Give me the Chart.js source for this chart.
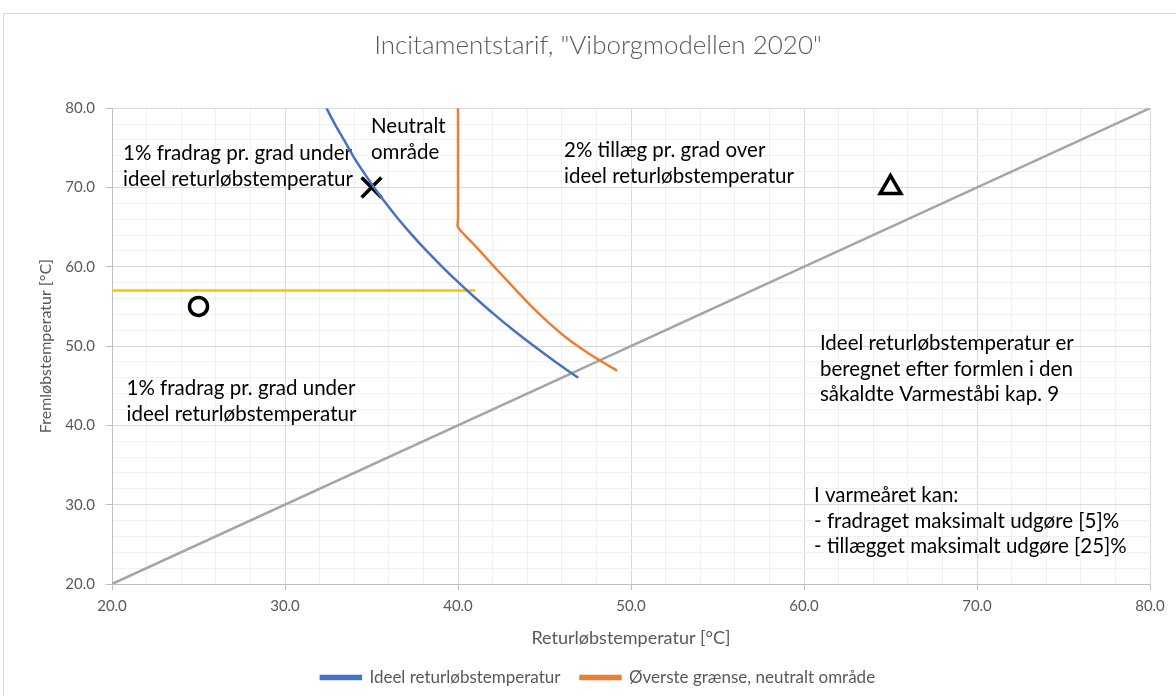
<!DOCTYPE html>
<html>
<head>
<meta charset="utf-8">
<script src="https://cdn.jsdelivr.net/npm/chart.js@4.4.1/dist/chart.umd.min.js"></script>
<style>
  html, body { margin: 0; padding: 0; background: #fff; }
  #wrap { width: 1176px; height: 696px; position: relative; }
</style>
</head>
<body>
<div id="wrap"><canvas id="chart" width="1176" height="696"></canvas></div>
<script>
// Ideel returløbstemperatur (blå kurve): fremløb -> retur
const idealFlow   = [80, 78, 76, 74, 72, 70, 68, 66, 64, 62, 60, 58, 56, 54, 52, 50, 48, 46];
const idealReturn = [32.4, 32.88, 33.41, 33.93, 34.52, 35.15, 35.83, 36.56, 37.35, 38.19, 39.09, 40.04, 41.04, 42.09, 43.21, 44.39, 45.64, 46.95];

// Øverste grænse, neutralt område (orange kurve)
const upperFlow   = [80, 66, 65, 63, 61, 59, 57, 55, 53, 51, 49, 48, 46.9];
const upperReturn = [40.0, 40.0, 40.0, 40.84, 41.68, 42.52, 43.38, 44.25, 45.22, 46.3, 47.6, 48.35, 49.2];

// Diagonal frem = retur (grå)
const diagReturn = [20, 80];
const diagFlow   = [20, 80];

// Gul vandret linje
const yellowReturn = [20, 41];
const yellowFlow   = [57, 57];

// Markører
const crossPoint    = { x: 35, y: 70 };
const circlePoint   = { x: 25, y: 55 };
const trianglePoint = { x: 65, y: 70 };

const xTicks = [20, 30, 40, 50, 60, 70, 80];
const yTicks = [20, 30, 40, 50, 60, 70, 80];

// Tekstfelter i diagrammet (placeret i dataværdier)
const notes = [
  { x: 20.64, y: 73.45, lines: ['1% fradrag pr. grad under', 'ideel returløbstemperatur'] },
  { x: 34.97, y: 76.85, lines: ['Neutralt', 'område'] },
  { x: 46.13, y: 73.82, lines: ['2% tillæg pr. grad over', 'ideel returløbstemperatur'] },
  { x: 20.84, y: 43.82, lines: ['1% fradrag pr. grad under', 'ideel returløbstemperatur'] },
  { x: 60.92, y: 49.5,  lines: ['Ideel returløbstemperatur er', 'beregnet efter formlen i den', 'såkaldte Varmeståbi kap. 9'] },
  { x: 60.58, y: 30.34, lines: ['I varmeåret kan:', '- fradraget maksimalt udgøre [5]%', '- tillægget maksimalt udgøre [25]%'] }
];

const toPoints = (xs, ys) => xs.map((x, i) => ({ x: x, y: ys[i] }));

const FONT = "Lato, 'Open Sans', sans-serif";
const TEXT_GRAY = '#595959';

const frameAndNotes = {
  id: 'frameAndNotes',
  beforeDraw(chart) {
    const ctx = chart.ctx;
    ctx.save();
    ctx.strokeStyle = '#d9d9d9';
    ctx.lineWidth = 1;
    ctx.strokeRect(3.5, 13.5, 1300, 1000);
    ctx.restore();
  },
  beforeDatasetsDraw(chart) {
    const ctx = chart.ctx;
    const xs = chart.scales.x;
    const ys = chart.scales.y;
    ctx.save();
    ctx.fillStyle = '#000';
    ctx.font = '20.5px ' + FONT;
    ctx.textAlign = 'left';
    ctx.textBaseline = 'alphabetic';
    notes.forEach(n => {
      const px = xs.getPixelForValue(n.x);
      const py = ys.getPixelForValue(n.y);
      n.lines.forEach((line, i) => ctx.fillText(line, px, py + i * 25.5));
    });
    ctx.restore();
  }
};

const majorOrMinor = (major, minor) => c => (c.tick && c.tick.value % 10 === 0) ? major : minor;

const axisCommon = {
  type: 'linear',
  min: 20,
  max: 80,
  border: { color: '#bfbfbf', width: 1 },
  grid: {
    color: majorOrMinor('#d9d9d9', '#f0f0f0'),
    tickColor: majorOrMinor('#bfbfbf', 'rgba(0,0,0,0)'),
    tickLength: 6,
    lineWidth: 1
  },
  ticks: {
    stepSize: 2,
    autoSkip: false,
    maxRotation: 0,
    minRotation: 0,
    color: TEXT_GRAY,
    font: { family: FONT, size: 15 },
    callback: v => (xTicks.includes(v) ? v.toFixed(1) : '')
  }
};

new Chart(document.getElementById('chart'), {
  type: 'scatter',
  data: {
    datasets: [
      {
        label: 'Ideel returløbstemperatur',
        data: toPoints(idealReturn, idealFlow),
        showLine: true,
        borderColor: '#4472C4',
        backgroundColor: '#4472C4',
        borderWidth: 2.5,
        pointRadius: 0,
        tension: 0.2
      },
      {
        label: 'Øverste grænse, neutralt område',
        data: toPoints(upperReturn, upperFlow),
        showLine: true,
        borderColor: '#ED7D31',
        backgroundColor: '#ED7D31',
        borderWidth: 2.5,
        pointRadius: 0,
        tension: 0.3
      },
      {
        label: 'Diagonal',
        data: toPoints(diagReturn, diagFlow),
        showLine: true,
        borderColor: '#A5A5A5',
        backgroundColor: '#A5A5A5',
        borderWidth: 2.5,
        pointRadius: 0
      },
      {
        label: 'Gul',
        data: toPoints(yellowReturn, yellowFlow),
        showLine: true,
        borderColor: '#FFC000',
        backgroundColor: '#FFC000',
        borderWidth: 2.5,
        pointRadius: 0
      },
      {
        label: 'X',
        data: [crossPoint],
        pointStyle: 'crossRot',
        pointRadius: 14,
        pointBorderWidth: 3.5,
        borderColor: '#000',
        backgroundColor: '#000'
      },
      {
        label: 'O',
        data: [circlePoint],
        pointStyle: 'circle',
        pointRadius: 9,
        pointBorderWidth: 3.5,
        borderColor: '#000',
        backgroundColor: '#fff'
      },
      {
        label: 'Trekant',
        data: [trianglePoint],
        pointStyle: 'triangle',
        pointRadius: 12,
        pointBorderWidth: 3.5,
        borderColor: '#000',
        backgroundColor: '#fff'
      }
    ]
  },
  options: {
    responsive: false,
    animation: false,
    layout: { padding: { left: 20, right: 0, top: 0, bottom: 0 } },
    scales: {
      x: Object.assign({}, axisCommon, {
        position: 'bottom',
        ticks: Object.assign({}, axisCommon.ticks, { padding: 7 }),
        title: {
          display: true,
          text: 'Returløbstemperatur [°C]',
          color: TEXT_GRAY,
          font: { family: FONT, size: 18 },
          padding: { top: 0, bottom: 0 }
        },
        afterFit(scale) {
          const legendH = scale.chart.legend ? scale.chart.legend.height : 0;
          scale.height = 696 - 584 - legendH;
          scale.paddingRight = 26;
        }
      }),
      y: Object.assign({}, axisCommon, {
        position: 'left',
        ticks: Object.assign({}, axisCommon.ticks, {
          padding: 11,
          callback: v => (yTicks.includes(v) ? v.toFixed(1) : '')
        }),
        title: {
          display: true,
          text: 'Fremløbstemperatur [°C]',
          color: TEXT_GRAY,
          font: { family: FONT, size: 16 },
          padding: { top: 16, bottom: 0 }
        },
        afterFit(scale) {
          scale.width = 92;
        }
      })
    },
    plugins: {
      title: {
        display: true,
        text: 'Incitamentstarif, "Viborgmodellen 2020"',
        color: TEXT_GRAY,
        font: { family: FONT, size: 26, weight: '300' },
        padding: { top: 30, bottom: 47 }
      },
      legend: {
        position: 'bottom',
        labels: {
          filter: item => item.datasetIndex < 2,
          color: TEXT_GRAY,
          font: { family: FONT, size: 17 },
          boxWidth: 40,
          boxHeight: 3,
          padding: 20
        }
      },
      tooltip: { enabled: false }
    }
  },
  plugins: [frameAndNotes]
});
</script>
</body>
</html>
